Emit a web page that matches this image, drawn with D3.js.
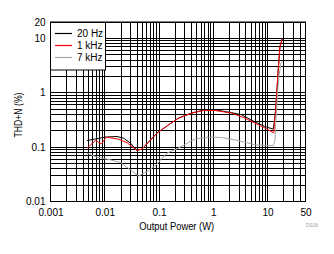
<!DOCTYPE html>
<html><head><meta charset="utf-8">
<script src="https://cdn.jsdelivr.net/npm/d3@7"></script>
<style>html,body{margin:0;padding:0;background:#fff;}svg{display:block;font-family:"Liberation Sans",Arial,sans-serif;}</style>
</head><body>
<script>
const xTickLabels = ["0.001","0.01","0.1","1","10","50"];
const yTickLabels = ["0.01","0.1","1","10","20"];
const seriesNames = ["20 Hz","1 kHz","7 kHz"];
const seriesColors = ["#000000","#ff0000","#a6a6a6"];
const hz20 = [[0.0047,0.132],[0.0103,0.153],[0.0168,0.157],[0.0223,0.146],[0.0296,0.119],[0.039,0.087],[0.0484,0.092],[0.0915,0.181],[0.15,0.257],[0.228,0.341],[0.402,0.425],[0.658,0.48],[1.08,0.485],[2.19,0.43],[3.34,0.392],[5.87,0.29],[8.96,0.239],[12.7,0.214],[13.4,0.3],[14.2,0.55],[14.8,0.98],[15.7,2.6],[16.9,7.0],[18.6,9.8]];
const khz1 = [[0.0047,0.096],[0.0067,0.132],[0.0087,0.115],[0.0107,0.153],[0.018,0.140],[0.0257,0.121],[0.039,0.087],[0.0484,0.092],[0.0915,0.181],[0.15,0.257],[0.228,0.341],[0.402,0.422],[0.658,0.471],[1.08,0.471],[2.19,0.422],[3.84,0.341],[5.87,0.276],[8.96,0.224],[12.7,0.186],[13.0,0.181],[13.3,0.257],[14.1,0.485],[14.7,0.98],[15.7,2.64],[16.9,7.07],[18.6,9.8]];
const khz7 = [[0.0046,0.0776],[0.0072,0.0655],[0.0127,0.0584],[0.0194,0.0521],[0.0296,0.0383],[0.042,0.0293],[0.06,0.0356],[0.085,0.0453],[0.14,0.0776],[0.228,0.096],[0.463,0.142],[0.813,0.153],[1.43,0.150],[2.89,0.132],[5.87,0.110],[12.7,0.106],[13.7,0.136],[14.1,0.276],[14.7,0.485],[15.3,0.98],[16.2,1.99],[17.6,3.5],[18.6,3.75]];

const W=334,H=254;
const FONT="Liberation Sans, Arial, sans-serif";
const svg=d3.select("body").append("svg").attr("width",W).attr("height",H);
const x=d3.scaleLog().domain([0.001,50]).range([50.5,305.5]);
const y=d3.scaleLog().domain([0.01,20]).range([201.5,22]);

const xGrid=[];
[0.001,0.01,0.1,1].forEach(d=>{for(let k=1;k<=9;k++)xGrid.push(+(k*d).toPrecision(3));});
[10,20,30,40,50].forEach(v=>xGrid.push(v));
const yGrid=[];
[0.01,0.1,1].forEach(d=>{for(let k=1;k<=9;k++)yGrid.push(+(k*d).toPrecision(3));});
[10,20].forEach(v=>yGrid.push(v));

const snap=v=>Math.round(v-0.5)+0.5;
const g=svg.append("g");
g.selectAll(".vx").data(xGrid).enter().append("line")
 .attr("x1",d=>snap(x(d))).attr("x2",d=>snap(x(d))).attr("y1",y(20)).attr("y2",y(0.01))
 .attr("stroke","#000").attr("stroke-width",1);
g.selectAll(".hy").data(yGrid).enter().append("line")
 .attr("y1",d=>snap(y(d))).attr("y2",d=>snap(y(d))).attr("x1",x(0.001)).attr("x2",x(50))
 .attr("stroke","#000").attr("stroke-width",1);

const line=d3.line().x(d=>x(d[0])).y(d=>y(d[1]));
[hz20,khz1,khz7].forEach((s,i)=>{
  svg.append("path").attr("d",line(s)).attr("fill","none").attr("stroke",seriesColors[i]).attr("stroke-width",1);
});

const xa=d3.axisBottom(x).tickValues(xTickLabels.map(Number)).tickFormat((d,i)=>xTickLabels[i]).tickSize(0).tickPadding(7);
const ax=svg.append("g").attr("transform","translate(0,201.5)").call(xa);
ax.select(".domain").remove();
ax.selectAll("text").attr("font-size",10).attr("fill","#000").attr("font-family",FONT);
const ya=d3.axisLeft(y).tickValues(yTickLabels.map(Number)).tickFormat((d,i)=>yTickLabels[i]).tickSize(0).tickPadding(5);
const ay=svg.append("g").attr("transform","translate(50.5,0)").call(ya);
ay.select(".domain").remove();
ay.selectAll("text").attr("font-size",10).attr("fill","#000").attr("font-family",FONT);

svg.append("text").attr("x",176.7).attr("y",229.5).attr("text-anchor","middle").attr("font-size",10)
  .attr("textLength",75).attr("lengthAdjust","spacingAndGlyphs").text("Output Power (W)");
svg.append("text").attr("transform","translate(21.5,115) rotate(-90)").attr("text-anchor","middle").attr("font-size",10)
  .attr("textLength",45).attr("lengthAdjust","spacingAndGlyphs").text("THD+N (%)");
svg.append("text").attr("x",312).attr("y",227).attr("text-anchor","middle").attr("font-size",5).attr("fill","#999").text("D016");

const lg=svg.append("g");
lg.append("rect").attr("x",50.5).attr("y",22.5).attr("width",55).attr("height",47.5).attr("fill","#fff").attr("stroke","#000");
seriesNames.forEach((n,i)=>{
  const yy=33.5+12*i;
  lg.append("line").attr("x1",55).attr("x2",72).attr("y1",yy).attr("y2",yy).attr("stroke",seriesColors[i]).attr("stroke-width",1.2);
  lg.append("text").attr("x",77).attr("y",yy+3.6).attr("font-size",10).text(n);
});
svg.append("rect").attr("x",50.5).attr("y",22).attr("width",255).attr("height",179.5).attr("fill","none").attr("stroke","#000");
</script>
</body></html>
